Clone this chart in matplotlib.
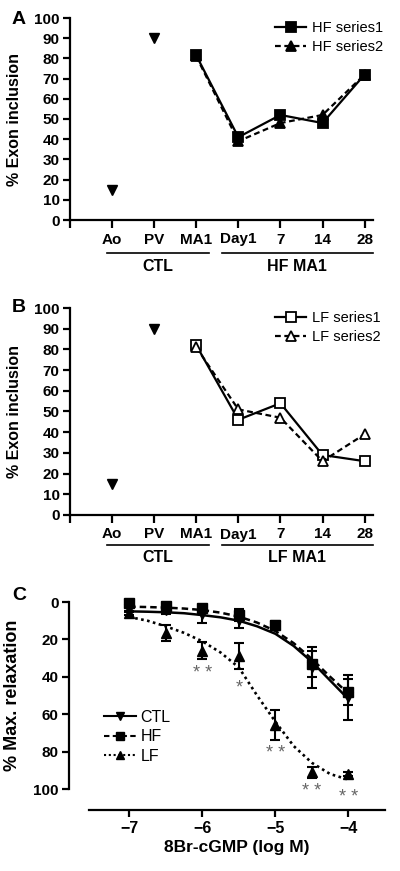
import numpy as np
import matplotlib
matplotlib.use("Agg")
import matplotlib.pyplot as plt

plt.rcParams['font.family'] = ['Liberation Sans', 'DejaVu Sans']
plt.rcParams['axes.linewidth'] = 1.6

# ---- panels A/B data
cats = ['Ao', 'PV', 'MA1', 'Day1', '7', '14', '28']
ctl_cats = ['Ao', 'PV']
ctl_vals = [15, 90]
ser_cats = ['MA1', 'Day1', '7', '14', '28']

hf_series1 = [81.5, 41, 52, 48, 72]
hf_series2 = [81, 39, 48, 52, 72]
lf_series1 = [82, 46, 54, 29, 26]
lf_series2 = [81, 51, 47, 26, 39]

# ---- panel C data
logc = [-7, -6.5, -6, -5.5, -5, -4.5, -4]
ctl_mean = [3.5, 4.5, 6.5, 9.5, 13, 35, 51]
ctl_err = [2, 2, 4.5, 4.5, 2, 11, 12]
hf_mean = [0.5, 2, 3, 7, 12.3, 33, 48]
hf_err = [1, 1.5, 1.5, 3, 2, 7, 7]
lf_mean = [6, 16.6, 26, 29, 66, 91, 92]
lf_err = [1, 4.5, 4.5, 7, 8, 3, 1]

# fitted curves
fit_x = [-7, -6.75, -6.5, -6.25, -6, -5.75, -5.5, -5.25, -5, -4.75, -4.5, -4.25, -4]
ctl_fit = [5, 5.2, 5.5, 6, 7, 8.2, 10, 13, 17, 23.5, 32, 42, 52]
hf_fit = [2.5, 2.7, 3, 3.5, 4.3, 5.7, 7.8, 11, 15.5, 22, 30.5, 40, 49]
lf_fit = [8, 10, 13, 16.5, 21, 27, 35, 50, 64, 77, 86, 92, 95]

stars = ['* *', '*', '* *', '* *', '* *']
star_x = [-6, -5.5, -5, -4.5, -4]
star_y = [38, 46, 81, 101.5, 104.5]

W, H = 400, 871
fig = plt.figure(figsize=(W / 100, H / 100), dpi=100)


def px_axes(left, right, top, bottom):
    return fig.add_axes([left / W, 1 - bottom / H, (right - left) / W, (bottom - top) / H])


def bold_ticks(ax, xs, ys):
    for t in ax.get_xticklabels():
        t.set_fontsize(xs)
        t.set_fontweight('bold')
    for t in ax.get_yticklabels():
        t.set_fontsize(ys)
        t.set_fontweight('bold')


def exon_panel(ax, s1, s2, filled, letter):
    pos = {c: i + 1 for i, c in enumerate(cats)}
    ax.plot([pos[c] for c in ctl_cats], ctl_vals, 'v', color='k', ms=7.5, ls='none', clip_on=False)
    xs = [pos[c] for c in ser_cats]
    mfc = 'k' if filled else 'white'
    l1, = ax.plot(xs, s1, '-', color='k', lw=1.6, marker='s', ms=7.5, mfc=mfc, mec='k', mew=1.3,
                  clip_on=False, label=f'{letter} series1')
    l2, = ax.plot(xs, s2, '--', color='k', lw=1.6, marker='^', ms=7.5, mfc=mfc, mec='k', mew=1.3,
                  dashes=(2.6, 1.6), clip_on=False, label=f'{letter} series2')
    ax.set_xlim(0, 7.2)
    ax.set_ylim(0, 100)
    ax.set_yticks(range(0, 101, 10))
    ax.set_xticks(range(0, 8))
    ax.set_xticklabels([''] + cats)
    ax.tick_params(direction='out', width=1.6, length=5, pad=2.5)
    ax.tick_params(axis='x', length=6, pad=3)
    ax.spines['top'].set_visible(False)
    ax.spines['right'].set_visible(False)
    bold_ticks(ax, 11, 11)
    ax.set_ylabel('% Exon inclusion', fontsize=11.5, fontweight='bold')
    ax.yaxis.set_label_coords(-0.158, 0.5)
    return l1, l2


# ---------- panel A
axA = px_axes(70, 373, 18, 220)
hA = exon_panel(axA, hf_series1, hf_series2, True, 'HF')
axA.legend(handles=hA, loc='upper left', bbox_to_anchor=(268 / W, 1 - 14 / H),
           bbox_transform=fig.transFigure, frameon=False, fontsize=10.5,
           handlelength=2.1, handletextpad=0.4, labelspacing=0.3, borderpad=0)
trA = axA.get_xaxis_transform()
for x0, x1, lab in [(0.88, 3.3, 'CTL'), (3.6, 7.2, 'HF MA1')]:
    axA.plot([x0, x1], [-0.165, -0.165], color='k', lw=1.2, transform=trA, clip_on=False)
    axA.text((x0 + x1) / 2, -0.232, lab, transform=trA, ha='center', va='center',
             fontsize=11.5, fontweight='bold')
fig.text(19 / W, 1 - 19 / H, 'A', fontsize=14, fontweight='bold', ha='center', va='center')

# ---------- panel B
axB = px_axes(70, 373, 308, 515)
hB = exon_panel(axB, lf_series1, lf_series2, False, 'LF')
axB.legend(handles=hB, loc='upper left', bbox_to_anchor=(268 / W, 1 - 304 / H),
           bbox_transform=fig.transFigure, frameon=False, fontsize=10.5,
           handlelength=2.1, handletextpad=0.4, labelspacing=0.3, borderpad=0)
trB = axB.get_xaxis_transform()
for x0, x1, lab in [(0.88, 3.3, 'CTL'), (3.6, 7.2, 'LF MA1')]:
    axB.plot([x0, x1], [-0.147, -0.147], color='k', lw=1.2, transform=trB, clip_on=False)
    axB.text((x0 + x1) / 2, -0.205, lab, transform=trB, ha='center', va='center',
             fontsize=11.5, fontweight='bold')
fig.text(19 / W, 1 - 308 / H, 'B', fontsize=14, fontweight='bold', ha='center', va='center')

# ---------- panel C
axC = px_axes(89, 385, 602, 789)
ekw = dict(ls='none', color='k', ecolor='k', elinewidth=1.5, capsize=3.8, capthick=1.5,
           ms=7, clip_on=False)
axC.errorbar(logc, ctl_mean, yerr=ctl_err, marker='v', **ekw)
axC.errorbar(logc, hf_mean, yerr=hf_err, marker='s', **ekw)
axC.errorbar(logc, lf_mean, yerr=lf_err, marker='^', **ekw)
axC.plot(fit_x, ctl_fit, '-', color='k', lw=1.8, clip_on=False)
axC.plot(fit_x, hf_fit, '--', color='k', lw=1.8, dashes=(2.6, 1.6), clip_on=False)
axC.plot(fit_x, lf_fit, color='k', lw=1.9, dashes=(1, 1.3), clip_on=False)
for sx, sy, s in zip(star_x, star_y, stars):
    axC.text(sx, sy, s, ha='center', va='center', fontsize=13, color='#666666')

# legend proxies
pC = [axC.plot([], [], '-', color='k', lw=1.5, marker='v', ms=6)[0],
      axC.plot([], [], '--', color='k', lw=1.5, marker='s', ms=6, dashes=(2.6, 1.6))[0],
      axC.plot([], [], color='k', lw=1.5, marker='^', ms=6, dashes=(1, 1.3))[0]]
axC.legend(pC, ['CTL', 'HF', 'LF'], loc='upper left', bbox_to_anchor=(96 / W, 1 - 702 / H),
           bbox_transform=fig.transFigure, frameon=False, fontsize=11.5,
           handlelength=2.0, handletextpad=0.3, labelspacing=0.28, borderpad=0)

axC.set_xlim(-7.55, -3.5)
axC.set_ylim(100, 0)
axC.spines['top'].set_visible(False)
axC.spines['right'].set_visible(False)
axC.spines['left'].set_position(('outward', 14.4))
axC.spines['bottom'].set_position(('outward', 15))
axC.set_xticks([-7, -6, -5, -4])
axC.set_yticks(range(0, 101, 20))
axC.tick_params(direction='out', width=1.6, length=5, pad=2.5)
axC.tick_params(axis='x', length=5, pad=3)
bold_ticks(axC, 11.5, 11)
axC.set_xlabel('8Br-cGMP (log M)', fontsize=12.5, fontweight='bold', labelpad=3)
axC.set_ylabel('% Max. relaxation', fontsize=13, fontweight='bold')
axC.yaxis.set_label_coords(-0.23, 0.5)
fig.text(19 / W, 1 - 595 / H, 'C', fontsize=14, fontweight='bold', ha='center', va='center')

fig.savefig('out.png', dpi=100)
